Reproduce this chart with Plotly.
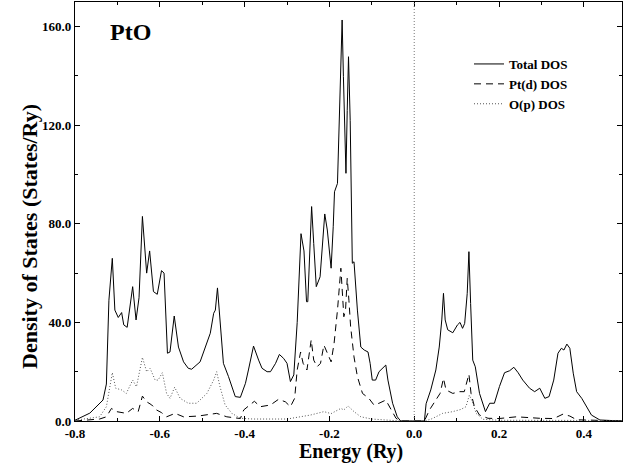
import plotly.graph_objects as go

# ---------------- data ----------------
total_E = [-0.800, -0.785, -0.765, -0.734, -0.726, -0.720, -0.712, -0.706, -0.698, -0.690,
           -0.685, -0.677, -0.664, -0.656, -0.649, -0.641, -0.631, -0.624, -0.615, -0.606,
           -0.596, -0.590, -0.582, -0.576, -0.566, -0.556, -0.544, -0.533, -0.525, -0.505,
           -0.481, -0.473, -0.469, -0.464, -0.458, -0.450, -0.438, -0.422, -0.410, -0.398,
           -0.391, -0.379, -0.367, -0.359, -0.347, -0.339, -0.327, -0.318, -0.308, -0.300,
           -0.292, -0.284, -0.276, -0.272, -0.267, -0.260, -0.254, -0.251, -0.242, -0.237,
           -0.231, -0.222, -0.211, -0.205, -0.196, -0.191, -0.188, -0.181, -0.178, -0.174,
           -0.170, -0.167, -0.163, -0.161, -0.158, -0.155, -0.151, -0.148, -0.146, -0.142,
           -0.134, -0.126, -0.118, -0.109, -0.104, -0.099, -0.091, -0.083, -0.067, -0.062,
           -0.051, -0.040, -0.032,
           0.024, 0.028, 0.039, 0.051, 0.059, 0.065, 0.069, 0.073, 0.079, 0.091,
           0.102, 0.108, 0.114, 0.119, 0.125, 0.129, 0.133, 0.138, 0.144, 0.154,
           0.168, 0.178, 0.189, 0.201, 0.213, 0.225, 0.235, 0.245, 0.256, 0.272,
           0.284, 0.296, 0.308, 0.318, 0.329, 0.339, 0.347, 0.353, 0.360, 0.367,
           0.375, 0.383, 0.395, 0.406, 0.418, 0.438, 0.490]
total_dos = [0.3, 1.5, 3.2, 8.5, 15, 49, 66, 45, 42, 44,
             39, 38, 54.5, 41, 50, 83, 60, 69, 52.5, 51.4,
             61, 60, 27.5, 28, 42.6, 30, 24, 21.4, 21, 24,
             35.6, 43.7, 45, 54, 41, 23.4, 18, 9.9, 9.6, 15.3,
             20.7, 30.4, 24.7, 21.4, 20, 20, 23.4, 27, 25.4, 23.4,
             16, 18.7, 40, 54.5, 76, 69, 48.4, 48.4, 87, 72,
             54.5, 58.5, 84, 77.5, 62, 78.8, 93, 96.4, 115, 146.5,
             162.7, 139.7, 110, 100.5, 126, 147.8, 122, 85.6, 64, 64.6,
             45, 30, 28.8, 28, 23.4, 16.6, 16.6, 20, 22.7, 16.6,
             7.2, 1.7, 0,
             0, 7, 12.6, 20.7, 30, 41, 51.8, 41, 37, 35.8,
             39, 40, 37.6, 39.6, 51.8, 68.7, 47.7, 24.7, 22, 11.2,
             3.8, 7.2, 7.2, 14, 19.6, 20.4, 21.8, 19.6, 16.6, 13.3,
             11.9, 13.3, 9.2, 9.9, 16.6, 27.5, 29.5, 28.8, 31.2, 29.5,
             19.4, 11.9, 9.2, 5.8, 2.4, 0.4, 0]

ptd_E = [-0.800, -0.742, -0.726, -0.714, -0.702, -0.679, -0.664, -0.651, -0.641, -0.631,
         -0.619, -0.608, -0.596, -0.584, -0.564, -0.544, -0.510, -0.466, -0.442, -0.410,
         -0.402, -0.377, -0.363, -0.339, -0.320, -0.304, -0.292, -0.282, -0.276, -0.268,
         -0.262, -0.253, -0.243, -0.237, -0.229, -0.221, -0.213, -0.205, -0.196, -0.189,
         -0.181, -0.173, -0.170, -0.166, -0.162, -0.158, -0.154, -0.150, -0.142, -0.134,
         -0.122, -0.107, -0.095, -0.083, -0.067, -0.055, -0.043, -0.032,
         0.024, 0.036, 0.051, 0.061, 0.069, 0.075, 0.091, 0.107, 0.118, 0.129,
         0.134, 0.142, 0.154, 0.174, 0.200, 0.241, 0.296, 0.329, 0.351, 0.367,
         0.383, 0.410, 0.490]
ptd_dos = [0, 0.8, 1.7, 5.1, 3.8, 3.1, 5.1, 3.8, 10.1, 7.8,
           6.5, 4.5, 3.4, 1.7, 3.1, 1.7, 2, 3.1, 1.7, 1,
           4.5, 8, 5.8, 6.5, 8.8, 7.8, 5.8, 9.2, 20.7, 28,
           23.4, 20.7, 32.9, 24.7, 22, 23.4, 30.8, 27.5, 24, 31.5,
           45, 62, 54.5, 42.3, 45, 57.9, 49, 38.3, 26, 18,
           11.2, 9.2, 6.5, 7.2, 8.5, 4.5, 1.1, 0,
           0, 4.5, 8.5, 11.2, 17.3, 12.6, 11.2, 11.9, 11.9, 19,
           11.2, 5.8, 2.4, 1.1, 1, 1.7, 1.1, 1, 2.8, 2,
           0.5, 0.3, 0]

op_E = [-0.800, -0.742, -0.726, -0.719, -0.712, -0.704, -0.690, -0.679, -0.664, -0.655,
        -0.641, -0.631, -0.623, -0.611, -0.604, -0.594, -0.584, -0.576, -0.565, -0.552,
        -0.533, -0.513, -0.489, -0.473, -0.466, -0.458, -0.446, -0.430, -0.410, -0.380,
        -0.300, -0.245, -0.213, -0.196, -0.173, -0.166, -0.156, -0.142, -0.126, -0.100,
        -0.032,
        0.024, 0.039, 0.051, 0.067, 0.091, 0.110, 0.122, 0.130, 0.137, 0.146,
        0.162, 0.200, 0.490]
op_dos = [0.3, 1.7, 5.8, 12.6, 19.6, 13.3, 12.6, 11.2, 16.6, 13.9,
          25.8, 20, 21.4, 16.6, 16.6, 19.6, 11.2, 9.2, 13.7, 9.2,
          7.2, 7.2, 11.2, 16.6, 20, 13.9, 6.5, 3.1, 1.1, 0.8,
          0.8, 2.4, 3.8, 3, 5.1, 4.5, 6.1, 3.8, 1.7, 0.8,
          0,
          0, 0.7, 1.7, 3.1, 3.8, 4.7, 5.8, 10.5, 7.8, 3.1,
          0.7, 0.3, 0.2]

x_tickvals = [-0.8, -0.6, -0.4, -0.2, 0.0, 0.2, 0.4]
x_ticktext = ["-0.8", "-0.6", "-0.4", "-0.2", "0.0", "0.2", "0.4"]
y_tickvals = [0, 40, 80, 120, 160]
y_ticktext = ["0.0", "40.0", "80.0", "120.0", "160.0"]
series_names = ["Total DOS", "Pt(d) DOS", "O(p) DOS"]
fermi_level = 0.0

FONT = "Liberation Serif"

fig = go.Figure()
fig.add_trace(go.Scatter(x=total_E, y=total_dos, mode="lines", name=series_names[0],
                         line=dict(color="black", width=1)))
fig.add_trace(go.Scatter(x=ptd_E, y=ptd_dos, mode="lines", name=series_names[1],
                         line=dict(color="black", width=1, dash="7px,5px")))
fig.add_trace(go.Scatter(x=op_E, y=op_dos, mode="lines", name=series_names[2],
                         line=dict(color="#555555", width=1, dash="1px,2px")))

fig.add_vline(x=fermi_level, line=dict(color="#777777", width=1, dash="1px,2px"))

axis_common = dict(showline=True, linecolor="black", linewidth=1.2, mirror="ticks",
                   ticks="inside", ticklen=5, tickcolor="black", showgrid=False,
                   zeroline=False, automargin=False,
                   tickfont=dict(family=FONT, size=13, color="black", weight="bold"))

fig.update_xaxes(range=[-0.8, 0.49], tickvals=x_tickvals, ticktext=x_ticktext,
                 minor=dict(dtick=0.1, tick0=0, ticks="inside", ticklen=3, tickcolor="black"),
                 **axis_common)
fig.update_yaxes(range=[0, 170], tickvals=y_tickvals, ticktext=y_ticktext,
                 minor=dict(dtick=20, tick0=0, ticks="inside", ticklen=3, tickcolor="black"),
                 **axis_common)

fig.add_annotation(text="<b>Energy (Ry)</b>", xref="paper", yref="paper",
                   x=(351 - 75) / 547, y=-0.041, yanchor="top", showarrow=False,
                   font=dict(family=FONT, size=20, color="black"))
fig.add_annotation(text="<b>Density of States (States/Ry)</b>", xref="paper", yref="paper",
                   x=(29 - 75) / 547, y=(421 - 237) / 419, textangle=-90, showarrow=False,
                   xanchor="center", yanchor="middle",
                   font=dict(family=FONT, size=22, color="black"))
fig.add_annotation(text="<b>PtO</b>", xref="paper", yref="paper",
                   x=(108 - 75) / 547, y=(421 - 32) / 419, xanchor="left", yanchor="middle",
                   showarrow=False, font=dict(family=FONT, size=24, color="black"))

fig.update_layout(
    template="none",
    width=623, height=463,
    margin=dict(l=75, r=1, t=2, b=42),
    paper_bgcolor="white", plot_bgcolor="white",
    showlegend=True,
    legend=dict(x=(469 - 75) / 547, y=(421 - 49) / 419, xanchor="left", yanchor="top",
                bgcolor="rgba(0,0,0,0)", borderwidth=0, tracegroupgap=0,
                font=dict(family=FONT, size=13, color="black", weight="bold")),
)

fig.write_html("out.html", config={"displayModeBar": False},
               post_script="document.body.style.margin='0';document.body.style.overflow='hidden';")
